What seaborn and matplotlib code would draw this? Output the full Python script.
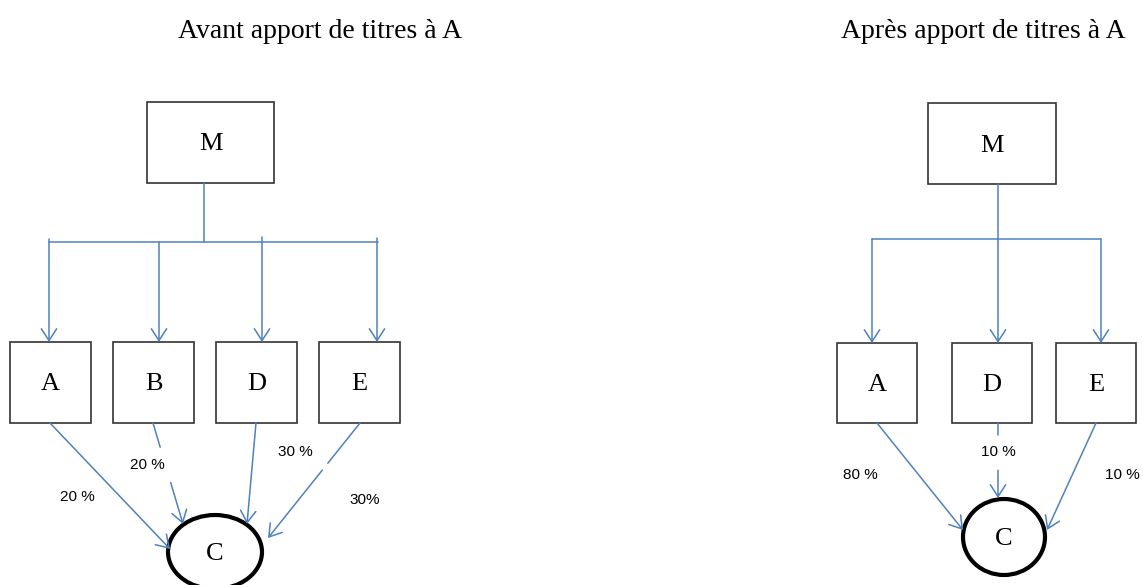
import matplotlib
matplotlib.use("Agg")
import matplotlib.pyplot as plt
from matplotlib.patches import Rectangle, Ellipse
import seaborn as sns

# diagram content
titles = ["Avant apport de titres à A", "Après apport de titres à A"]
parent = "M"
target = "C"
avant_subs = ["A", "B", "D", "E"]
avant_pct = ["20 %", "20 %", "30 %", "30%"]
apres_subs = ["A", "D", "E"]
apres_pct = ["80 %", "10 %", "10 %"]

sns.set_theme(style="white")
plt.rcParams["font.family"] = ["Liberation Serif", "DejaVu Serif"]
plt.rcParams["text.color"] = "black"

BLUE = "#4F81BD"
EDGE = "#333333"
LW = 1.1


def box(ax, x0, y0, x1, y1, label):
    ax.add_patch(Rectangle((x0, y0), x1 - x0, y1 - y0, fill=False,
                           edgecolor=EDGE, lw=1.2))
    ax.text((x0 + x1) / 2, (y0 + y1) / 2 + 2, label, ha="center", va="center",
            fontsize=19)


def arrow(ax, p0, p1):
    ax.annotate("", xy=p1, xytext=p0,
                arrowprops=dict(arrowstyle="->,head_length=0.85,head_width=0.55",
                                color=BLUE, lw=LW, mutation_scale=10,
                                shrinkA=0, shrinkB=0))


def link(ax, p0, p1, gap=None):
    # arrow from p0 to p1, optionally broken where the label sits
    if gap is None:
        arrow(ax, p0, p1)
        return
    t0, t1 = gap
    a = (p0[0] + (p1[0] - p0[0]) * t0, p0[1] + (p1[1] - p0[1]) * t0)
    b = (p0[0] + (p1[0] - p0[0]) * t1, p0[1] + (p1[1] - p0[1]) * t1)
    ax.plot([p0[0], a[0]], [p0[1], a[1]], color=BLUE, lw=LW)
    arrow(ax, b, p1)


def pct(ax, x, y, s):
    ax.text(x, y, s, ha="center", va="center", fontsize=11,
            family=["Liberation Sans", "DejaVu Sans"])


def panel(ax, title, title_x, mbox, stem_x, bar_y, bar_x, drops, overs,
          lefts, size, top, circ, links, gaps, subs, pcts, pct_xy):
    ax.text(title_x, 31, title, ha="center", va="center", fontsize=20)
    box(ax, *mbox, parent)
    ax.plot([stem_x, stem_x], [mbox[3], bar_y], color=BLUE, lw=LW)
    ax.plot(bar_x, [bar_y, bar_y], color=BLUE, lw=LW)
    for dx, ov in zip(drops, overs):
        arrow(ax, (dx, bar_y - ov), (dx, top))
    for left, name in zip(lefts, subs):
        box(ax, left, top, left + size, top + size, name)
    cx, cy, w, h = circ
    ax.add_patch(Ellipse((cx, cy), w, h, fill=False, edgecolor="black", lw=3))
    ax.text(cx, cy + 2, target, ha="center", va="center", fontsize=19)
    for (p0, p1), g in zip(links, gaps):
        link(ax, p0, p1, g)
    for (x, y), s in zip(pct_xy, pcts):
        pct(ax, x, y, s)


fig = plt.figure(figsize=(11.43, 5.85), dpi=100)
ax = fig.add_axes([0, 0, 1, 1])
ax.set_xlim(0, 1143)
ax.set_ylim(585, 0)
ax.axis("off")

# avant
panel(ax, titles[0], 320, (147, 102, 274, 183), 204, 242, [49, 378],
      [49, 159, 262, 377], [3, 0, 5, 4], [10, 113, 216, 319], 81, 342,
      (215, 552, 94, 74),
      [((50, 423), (170, 549)), ((153, 423), (183, 524)),
       ((256, 423), (247, 524)), ((360, 423), (268, 538))],
      [None, (0.24, 0.59), None, (0.35, 0.41)],
      avant_subs, avant_pct,
      [(77, 497), (147, 465), (295, 452), (365, 500)])

# apres
panel(ax, titles[1], 983, (928, 103, 1056, 184), 998, 239, [872, 1101],
      [872, 1101], [0, 0], [837, 952, 1056], 80, 343,
      (1004, 537, 82, 76),
      [((877, 423), (963, 530)), ((998, 423), (998, 498)),
       ((1096, 423), (1047, 530))],
      [None, (0.16, 0.63), None],
      apres_subs, apres_pct,
      [(860, 475), (998, 452), (1122, 475)])
arrow(ax, (998, 239), (998, 343))

fig.savefig("out.png", dpi=100)
